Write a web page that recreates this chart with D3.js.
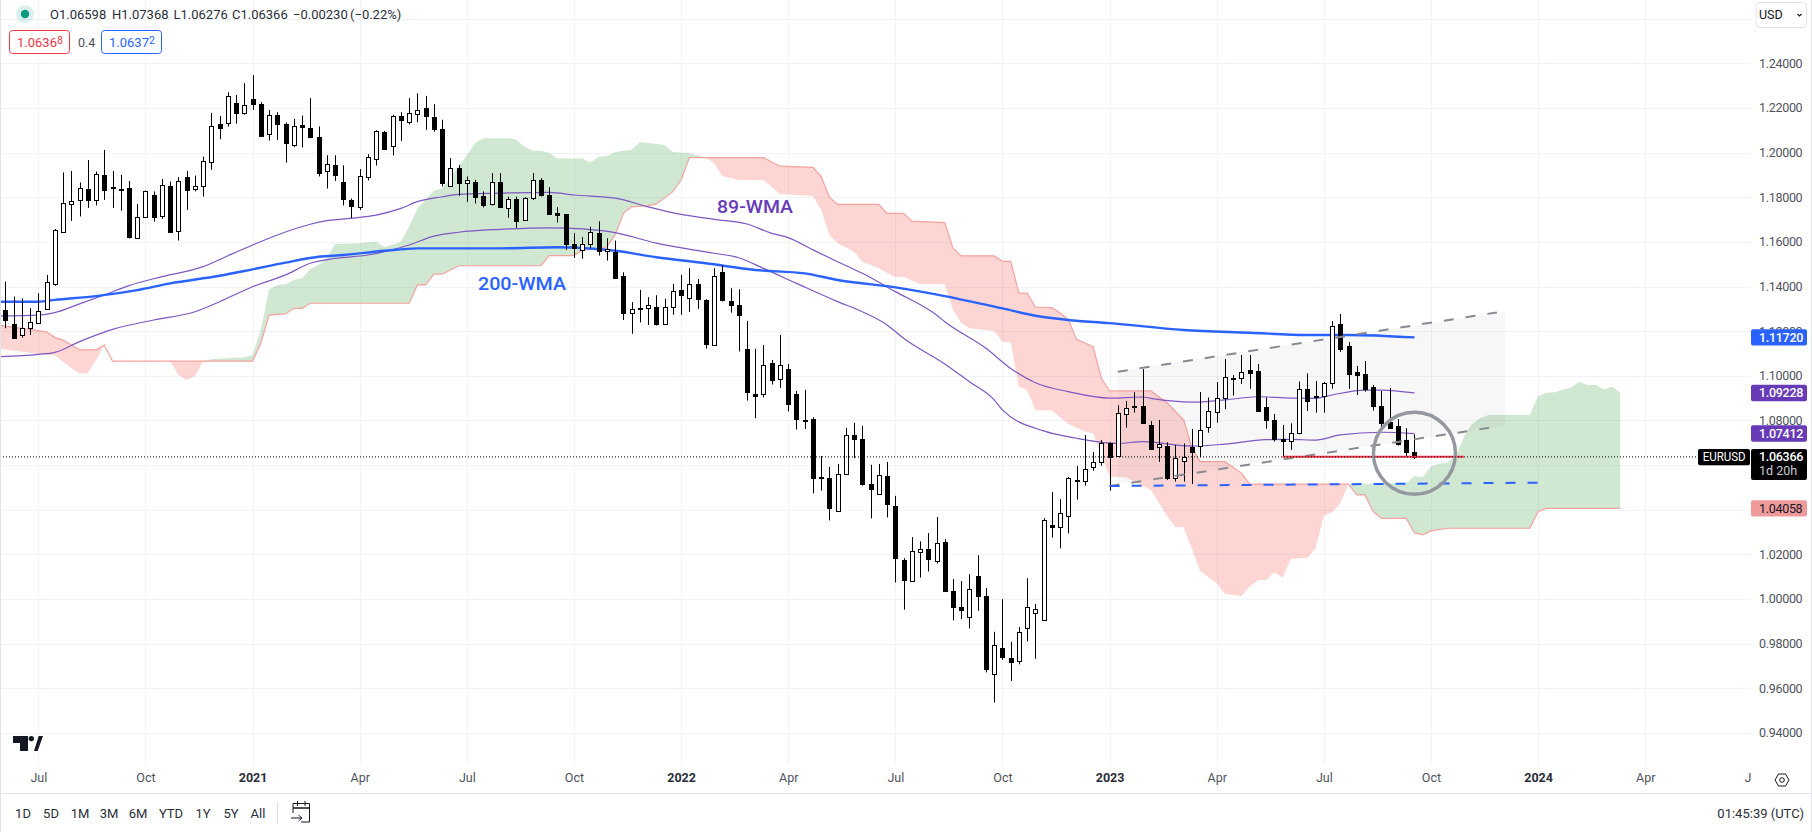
<!DOCTYPE html>
<html>
<head>
<meta charset="utf-8">
<title>EURUSD weekly</title>
<script src="https://cdn.jsdelivr.net/npm/d3@7"></script>
<style>
  html, body { margin: 0; padding: 0; background: #fff; overflow: hidden; }
  svg { display: block; }
  text { font-family: Roboto, "Open Sans", sans-serif; }
</style>
</head>
<body>
<div id="chart"></div>
<script>
// weekly candles, bar 0 is the first one on screen
const opens = [1.1295,1.1232,1.1180,1.1213,1.1238,1.1303,1.1412,1.1643,1.1769,1.1787,1.1836,1.1787,1.1900,1.1845,1.1837,1.1840,1.1619,1.1711,1.1809,1.1714,1.1851,1.1648,1.1890,1.1839,1.1849,1.1957,1.2129,1.2132,1.2221,1.2176,1.2239,1.2217,1.2082,1.2169,1.2129,1.2032,1.2123,1.2109,1.2069,1.1917,1.1943,1.1867,1.1787,1.1755,1.1890,1.1969,1.2091,1.2029,1.2163,1.2139,1.2170,1.2199,1.2158,1.2105,1.1852,1.1930,1.1861,1.1867,1.1805,1.1767,1.1867,1.1755,1.1794,1.1697,1.1793,1.1876,1.1809,1.1728,1.1724,1.1589,1.1567,1.1589,1.1639,1.1558,1.1555,1.1446,1.1285,1.1304,1.1303,1.1307,1.1236,1.1312,1.1383,1.1352,1.1410,1.1340,1.1141,1.1464,1.1334,1.1316,1.1119,1.0917,1.0916,1.1056,1.0985,1.1029,1.0917,1.0801,1.0806,1.0546,1.0541,1.0395,1.0559,1.0734,1.0716,1.0514,1.0470,1.0550,1.0416,1.0174,1.0080,1.0210,1.0223,1.0174,1.0255,1.0035,0.9963,0.9919,1.0102,1.0013,0.9668,0.9780,0.9735,0.9726,0.9869,0.9941,0.9905,1.0330,1.0320,1.0369,1.0533,1.0526,1.0588,1.0612,1.0699,1.0638,1.0827,1.0865,1.0865,1.0780,1.0680,1.0685,1.0541,1.0621,1.0681,1.0684,1.0769,1.0836,1.0899,1.0987,1.0987,1.1026,1.1021,1.0860,1.0802,1.0715,1.0711,1.0741,1.0941,1.0908,1.0906,1.0966,1.1232,1.1133,1.1017,1.1008,1.0950,1.0865,1.0793,1.0775,1.0712,1.06598];
const highs = [1.1422,1.1355,1.1347,1.1303,1.1370,1.1452,1.1657,1.1911,1.1918,1.1866,1.1967,1.1915,1.2012,1.1918,1.1900,1.1873,1.1770,1.1830,1.1826,1.1882,1.1870,1.1890,1.1918,1.1897,1.1982,1.2178,1.2164,1.2270,1.2258,1.2311,1.2347,1.2226,1.2191,1.2181,1.2135,1.2151,1.2166,1.2244,1.2117,1.1988,1.1988,1.1943,1.1794,1.1926,1.1993,1.2100,1.2097,1.2169,1.2181,1.2244,1.2266,1.2254,1.2217,1.2147,1.1975,1.1945,1.1893,1.1878,1.1826,1.1908,1.1908,1.1803,1.1803,1.1800,1.1908,1.1885,1.1845,1.1755,1.1725,1.1639,1.1621,1.1668,1.1692,1.1616,1.1606,1.1464,1.1330,1.1385,1.1352,1.1361,1.1345,1.1412,1.1452,1.1482,1.1433,1.1343,1.1482,1.1494,1.1392,1.1388,1.1246,1.1121,1.1138,1.1071,1.1183,1.1053,1.0932,1.0937,1.0814,1.0641,1.0592,1.0605,1.0767,1.0789,1.0776,1.0601,1.0605,1.0614,1.0462,1.0183,1.0277,1.0258,1.0295,1.0367,1.0268,1.0089,1.0080,1.0111,1.0196,1.0049,0.9853,0.9999,0.9808,0.9874,1.0093,0.9978,1.0362,1.0479,1.0447,1.0547,1.0596,1.0735,1.0659,1.0712,1.0702,1.0868,1.0887,1.0927,1.1030,1.0797,1.0802,1.0702,1.0690,1.0697,1.0762,1.0927,1.0903,1.0972,1.1075,1.1003,1.1093,1.1093,1.1053,1.0903,1.0829,1.0780,1.0787,1.0974,1.1011,1.0977,1.0972,1.1245,1.1277,1.1151,1.1044,1.1066,1.0959,1.0932,1.0945,1.0806,1.0765,1.07368];
const lows = [1.1213,1.1168,1.1171,1.1183,1.1235,1.1303,1.1403,1.1643,1.1694,1.1714,1.1752,1.1763,1.1788,1.1752,1.1739,1.1615,1.1615,1.1709,1.1691,1.1703,1.1642,1.1606,1.1743,1.1826,1.1803,1.1923,1.2060,1.2117,1.2130,1.2170,1.2191,1.2072,1.2054,1.2057,1.1955,1.2024,1.2023,1.2064,1.1893,1.1839,1.1873,1.1763,1.1706,1.1743,1.1875,1.1942,1.2012,1.1987,1.2052,1.2126,1.2136,1.2102,1.2094,1.1848,1.1851,1.1806,1.1779,1.1772,1.1754,1.1763,1.1754,1.1708,1.1663,1.1694,1.1787,1.1803,1.1721,1.1687,1.1564,1.1528,1.1524,1.1571,1.1539,1.1516,1.1436,1.1250,1.1188,1.1239,1.1228,1.1225,1.1234,1.1273,1.1273,1.1286,1.1300,1.1122,1.1141,1.1333,1.1283,1.1109,1.0889,1.0810,1.0903,1.0961,1.0946,1.0840,1.0759,1.0762,1.0473,1.0486,1.0352,1.0392,1.0559,1.0631,1.0508,1.0361,1.0468,1.0365,1.0074,0.9952,1.0078,1.0096,1.0123,1.0159,1.0034,0.9904,0.9911,0.9868,0.9947,0.9671,0.9536,0.9728,0.9633,0.9707,0.9810,0.9732,0.9904,1.0275,1.0227,1.0294,1.0445,1.0508,1.0575,1.0597,1.0485,1.0638,1.0768,1.0835,1.0790,1.0668,1.0614,1.0533,1.0526,1.0526,1.0515,1.0635,1.0745,1.0790,1.0850,1.0911,1.0963,1.0942,1.0844,1.0763,1.0705,1.0638,1.0668,1.0738,1.0842,1.0835,1.0835,1.0942,1.1107,1.0941,1.0914,1.0929,1.0844,1.0765,1.0768,1.0687,1.0636,1.06276];
const closes = [1.1250,1.1171,1.1213,1.1240,1.1292,1.1422,1.1654,1.1773,1.1782,1.1840,1.1788,1.1903,1.1833,1.1839,1.1831,1.1622,1.1711,1.1827,1.1709,1.1854,1.1643,1.1872,1.1830,1.1852,1.1961,1.2118,1.2109,1.2253,1.2175,1.2212,1.2215,1.2072,1.2167,1.2130,1.2045,1.2118,1.2112,1.2067,1.1906,1.1948,1.1897,1.1790,1.1758,1.1894,1.1979,1.2096,1.2014,1.2163,1.2144,1.2179,1.2190,1.2161,1.2103,1.1861,1.1933,1.1861,1.1876,1.1799,1.1763,1.1867,1.1754,1.1794,1.1697,1.1796,1.1875,1.1808,1.1722,1.1718,1.1590,1.1570,1.1592,1.1643,1.1557,1.1567,1.1439,1.1279,1.1301,1.1298,1.1315,1.1233,1.1310,1.1382,1.1359,1.1413,1.1342,1.1144,1.1449,1.1340,1.1315,1.1270,1.0925,1.0907,1.1047,1.0979,1.1047,1.0871,1.0804,1.0795,1.0540,1.0540,1.0405,1.0559,1.0734,1.0716,1.0513,1.0490,1.0555,1.0423,1.0181,1.0083,1.0214,1.0222,1.0177,1.0253,1.0037,0.9962,0.9949,1.0043,1.0011,0.9684,0.9796,0.9738,0.9716,0.9854,0.9963,0.9957,1.0353,1.0321,1.0384,1.0541,1.0527,1.0581,1.0612,1.0699,1.0638,1.0832,1.0854,1.0860,1.0790,1.0672,1.0693,1.0541,1.0630,1.0638,1.0660,1.0756,1.0841,1.0899,1.0993,1.0992,1.1015,1.1014,1.0844,1.0803,1.0717,1.0705,1.0745,1.0939,1.0889,1.0902,1.0966,1.1221,1.1121,1.1009,1.1005,1.0941,1.0866,1.0789,1.0768,1.0696,1.0656,1.06366];

// moving averages: bar index of each vertex, then the value there
const wma200Bars = [-1,4,6,11,16,20,26,30,34,38,41,46,50,60,67,74,79,85,91,97,101,108,114,121,125,129,134,143,151,158,163,171];
const wma200 = [1.1332,1.1332,1.1340,1.1357,1.1384,1.1414,1.1448,1.1477,1.1507,1.1533,1.1541,1.1560,1.1571,1.1571,1.1576,1.1560,1.1531,1.1504,1.1474,1.1459,1.1429,1.1396,1.1357,1.1302,1.1269,1.1250,1.1236,1.1205,1.1193,1.1183,1.1183,1.1172];
const wmaFastBars = [-1,4,6,9,12,15,19,24,27,30,33,37,39,42,45,48,50,53,55,60,66,69,74,78,82,86,90,93,95,98,101,104,108,113,114,119,122,125,129,134,138,139,144,148,152,156,159,161,165,167,171];
const wmaFast = [1.1268,1.1272,1.1283,1.1322,1.1362,1.1404,1.1444,1.1489,1.1538,1.1586,1.1631,1.1679,1.1695,1.1706,1.1720,1.1750,1.1780,1.1802,1.1813,1.1818,1.1822,1.1810,1.1796,1.1757,1.1723,1.1701,1.1680,1.1638,1.1619,1.1564,1.1511,1.1459,1.1377,1.1272,1.1242,1.1123,1.1033,1.0969,1.0929,1.0900,1.0905,1.0899,1.0882,1.0892,1.0906,1.0900,1.0899,1.0914,1.0936,1.0936,1.0923];
const wmaSlowBars = [-1,4,6,9,13,18,23,26,30,34,37,40,44,46,49,52,55,60,66,70,74,79,86,89,92,96,101,104,107,109,114,117,120,121,126,130,135,138,144,148,153,156,159,162,167,171];
const wmaSlow = [1.1085,1.1096,1.1105,1.1153,1.1208,1.1250,1.1287,1.1332,1.1399,1.1452,1.1504,1.1526,1.1541,1.1556,1.1586,1.1626,1.1643,1.1656,1.1663,1.1658,1.1641,1.1594,1.1549,1.1529,1.1481,1.1414,1.1332,1.1287,1.1228,1.1168,1.1053,1.0973,1.0892,1.0847,1.0753,1.0720,1.0697,1.0705,1.0685,1.0694,1.0714,1.0715,1.0712,1.0735,1.0747,1.0741];

// ichimoku cloud edges
const spanABars = [-1,5,6,7,8,9,10,11,12,13,20,21,22,23,24,25,27,29,30,31,32,33,34,35,36,37,38,39,40,43,45,46,48,49,50,52,53,54,55,57,58,61,62,63,64,65,66,67,70,71,72,73,74,75,76,77,80,81,83,85,86,87,89,92,94,98,99,100,101,103,104,106,108,109,111,114,115,116,117,120,121,122,123,124,125,127,129,131,132,134,136,138,139,140,141,142,143,145,147,148,150,151,152,153,154,155,156,158,159,160,161,162,163,170,171,172,173,174,175,176,177,178,179,180,185,186,187,188,190,191,192,193,194,195,196];
const spanA = [1.1123,1.1093,1.1093,1.1063,1.1034,1.1011,1.1011,1.1071,1.1138,1.1066,1.1066,1.1004,1.0981,1.0999,1.1066,1.1074,1.1078,1.1083,1.1093,1.1205,1.1387,1.1407,1.1410,1.1429,1.1437,1.1477,1.1496,1.1526,1.1590,1.1594,1.1601,1.1576,1.1601,1.1668,1.1750,1.1829,1.1840,1.1885,1.1937,1.2042,1.2064,1.2064,1.2059,1.2026,1.2008,1.2008,1.1998,1.1974,1.1974,1.1955,1.1981,1.1985,1.2001,1.2008,1.2012,1.2047,1.2034,1.2003,1.1997,1.1977,1.1952,1.1895,1.1877,1.1877,1.1814,1.1806,1.1743,1.1631,1.1594,1.1556,1.1511,1.1482,1.1441,1.1444,1.1411,1.1411,1.1295,1.1238,1.1213,1.1201,1.1153,1.1150,1.0951,1.0936,1.0847,1.0845,1.0784,1.0750,1.0742,1.0548,1.0545,1.0506,1.0488,1.0430,1.0369,1.0321,1.0321,1.0125,1.0070,1.0022,1.0013,1.0055,1.0085,1.0085,1.0120,1.0095,1.0179,1.0185,1.0227,1.0373,1.0387,1.0429,1.0515,1.0518,1.0551,1.0545,1.0593,1.0605,1.0611,1.0638,1.0727,1.0784,1.0811,1.0824,1.0824,1.0909,1.0924,1.0926,1.0948,1.0973,1.0959,1.0959,1.0939,1.0951,1.0922];
const spanBBars = [-1,5,6,7,8,9,11,12,13,30,31,32,33,34,35,36,37,49,50,51,52,53,55,65,66,69,70,72,73,74,75,76,78,79,81,82,83,92,94,98,99,100,101,106,107,109,110,114,115,116,120,121,122,123,124,125,127,128,129,130,132,133,134,139,141,143,144,145,148,150,151,163,164,165,166,167,170,171,172,173,175,185,186,187,196];
const spanB = [1.1228,1.1197,1.1171,1.1160,1.1138,1.1116,1.1116,1.1138,1.1066,1.1066,1.1146,1.1272,1.1275,1.1277,1.1302,1.1302,1.1325,1.1325,1.1407,1.1407,1.1455,1.1455,1.1493,1.1493,1.1538,1.1538,1.1564,1.1567,1.1578,1.1631,1.1728,1.1757,1.1762,1.1770,1.1825,1.1877,1.1977,1.1977,1.1939,1.1934,1.1892,1.1800,1.1768,1.1768,1.1728,1.1728,1.1693,1.1686,1.1572,1.1537,1.1537,1.1513,1.1513,1.1370,1.1370,1.1308,1.1305,1.1281,1.1250,1.1163,1.1130,1.0989,1.0932,1.0932,1.0878,1.0802,1.0676,1.0615,1.0615,1.0564,1.0515,1.0515,1.0466,1.0466,1.0391,1.0361,1.0361,1.0297,1.0287,1.0305,1.0317,1.0317,1.0391,1.04058,1.04058];
// bar ranges where the cloud is bearish or bullish
const cloudRunEdges = [-1,24,85,163,196];
const cloudRunColors = ['rgba(244,67,54,.22)','rgba(67,160,71,.25)','rgba(244,67,54,.22)','rgba(67,160,71,.25)'];

// drawings: [bar, price] ends
const channelUpper = [[135,1.1018],[181,1.1284]];
const channelLower = [[134,1.0506],[181,1.0772]];
const channelBox = [[135,1.1020],[182,1.1287],[182,1.0776],[135,1.0515]];
const supportLine = [[155,1.0637],[177,1.0637]];
const blueDashed = [[134,1.0506],[186,1.0521]];
const circleCentre = [171,1.0653];

const gridPrices = [1.26,1.24,1.22,1.20,1.18,1.16,1.14,1.12,1.10,1.08,1.06,1.04,1.02,1.00,0.98,0.96,0.94];
// 1.06 and 1.04 sit behind the black and pink tags, so they get no label
const priceLabels = [1.24,1.22,1.20,1.18,1.16,1.14,1.12,1.10,1.08,1.02,1.00,0.98,0.96,0.94];
const timeTickBars = [4,17,30,43,56,69,82,95,108,121,134,147,160,173,186,199,212];
const timeTickLabels = ['Jul','Oct','2021','Apr','Jul','Oct','2022','Apr','Jul','Oct','2023','Apr','Jul','Oct','2024','Apr','Jul'];
const lastPrice = 1.06366;
const lineTags = [1.11720,1.09228,1.07412];
const lineTagColors = ['#2962ff','#673ab7','#673ab7'];
const cloudTag = 1.04058;
const ranges = ['1D','5D','1M','3M','6M','YTD','1Y','5Y','All'];
const rangeCentres = [23,51,80,109,138,171,203,231,258];
const legendItems = ['O1.06598','H1.07368','L1.06276','C1.06366','\u22120.00230','(\u22120.22%)'];
const legendLefts = [50,112,173.5,232,293,350];

const W = 1812, H = 832;
const paneRight = 1751, paneBottom = 765, footerTop = 793.5;

const x = d3.scaleLinear().domain([0,212]).range([5.4,1752.3]);
const y = d3.scaleLinear().domain([1.24,0.94]).range([63.3,732.9]);

const svg = d3.select('#chart').append('svg').attr('width',W).attr('height',H);
const defs = svg.append('defs');
defs.append('clipPath').attr('id','pane').append('rect').attr('width',paneRight).attr('height',paneBottom);

const pane = svg.append('g').attr('clip-path','url(#pane)');

// grid
pane.selectAll('.hgrid').data(gridPrices).join('line').attr('class','hgrid')
    .attr('x1',0).attr('x2',paneRight)
    .attr('y1',d => Math.round(y(d))+.5).attr('y2',d => Math.round(y(d))+.5)
    .attr('stroke','#f0f3fa');
pane.selectAll('.vgrid').data(timeTickBars).join('line').attr('class','vgrid')
    .attr('y1',0).attr('y2',paneBottom)
    .attr('x1',d => Math.round(x(d))+.5).attr('x2',d => Math.round(x(d))+.5)
    .attr('stroke','#f0f3fa');

const line = d3.line().x(d => x(d[0])).y(d => y(d[1]));
const smoothLine = d3.line().x(d => x(d[0])).y(d => y(d[1])).curve(d3.curveMonotoneX);
const zipped = (bars,vals) => bars.map((b,i) => [b,vals[i]]);

// cloud, the same outline is painted once per run and clipped to that run
const outline = line(zipped(spanABars,spanA).concat(zipped(spanBBars,spanB).reverse()))+'Z';
cloudRunColors.forEach((c,i) => {
    defs.append('clipPath').attr('id','run'+i).append('rect')
        .attr('x',x(cloudRunEdges[i])).attr('width',x(cloudRunEdges[i+1])-x(cloudRunEdges[i]))
        .attr('y',0).attr('height',paneBottom);
    pane.append('path').attr('d',outline).attr('fill',c)
        .attr('clip-path',`url(#run${i})`);
});
pane.append('path').attr('d',line(zipped(spanBBars,spanB)))
    .attr('fill','none').attr('stroke','#f5a3a0').attr('stroke-width',1.2);

// channel box
pane.append('path').attr('d',line(channelBox)+'Z').attr('fill','#787b86').attr('fill-opacity',.06);

const lastY = y(lastPrice);

// moving averages
[[wmaFastBars,wmaFast],[wmaSlowBars,wmaSlow]].forEach(s => {
    pane.append('path').attr('d',smoothLine(zipped(s[0],s[1])))
        .attr('fill','none').attr('stroke','#7e57c2').attr('stroke-width',1.2);
});
pane.append('path').attr('d',smoothLine(zipped(wma200Bars,wma200)))
    .attr('fill','none').attr('stroke','#2962ff').attr('stroke-width',2.4);

// candles
const candles = opens.map((o,i) => ({i:i,o:o,h:highs[i],l:lows[i],c:closes[i]}));
const candle = pane.selectAll('.candle').data(candles).join('g').attr('class','candle')
    .attr('transform',d => `translate(${Math.round(x(d.i))+.5},0)`);
candle.append('line').attr('y1',d => y(d.h)).attr('y2',d => y(d.l)).attr('stroke','#000');
candle.append('rect').attr('x',-2).attr('width',4)
    .attr('y',d => Math.round(y(Math.max(d.o,d.c)))+.5)
    .attr('height',d => Math.max(1,Math.round(Math.abs(y(d.o)-y(d.c)))))
    .attr('fill',d => d.c >= d.o ? '#fff' : '#000')
    .attr('stroke','#000');

// drawings
pane.append('path').attr('d',line(channelUpper)).attr('fill','none').attr('stroke','#888a90')
    .attr('stroke-width',2).attr('stroke-dasharray','10 12');
pane.append('path').attr('d',line(channelLower)).attr('fill','none').attr('stroke','#888a90')
    .attr('stroke-width',2).attr('stroke-dasharray','10 12');
pane.append('path').attr('d',line(supportLine)).attr('fill','none').attr('stroke','#f23645').attr('stroke-width',2);
pane.append('path').attr('d',line(blueDashed)).attr('fill','none').attr('stroke','#2962ff')
    .attr('stroke-width',2).attr('stroke-dasharray','10 12');
pane.append('circle').attr('cx',x(circleCentre[0])).attr('cy',y(circleCentre[1])).attr('r',41)
    .attr('fill','none').attr('stroke','#9598a1').attr('stroke-width',3.4);

pane.append('line').attr('x1',0).attr('x2',paneRight).attr('y1',lastY).attr('y2',lastY)
    .attr('stroke','#000').attr('stroke-dasharray','1 2');

// indicator names
pane.append('text').attr('x',717).attr('y',213).text('89-WMA')
    .attr('fill','#673ab7').attr('font-size',19).attr('font-weight',500)
    .attr('textLength',76).attr('lengthAdjust','spacingAndGlyphs');
pane.append('text').attr('x',478).attr('y',290).text('200-WMA')
    .attr('fill','#2962ff').attr('font-size',19).attr('font-weight',500)
    .attr('textLength',88).attr('lengthAdjust','spacingAndGlyphs');

// tv logo
pane.append('path').attr('d','M13 736H28V751H20V743H13Z M34 751L38.7 736H43L37.6 751Z').attr('fill','#131722');
pane.append('circle').attr('cx',31.3).attr('cy',738.6).attr('r',2.7).attr('fill','#131722');

// price axis
const yAxis = svg.append('g').attr('transform',`translate(${paneRight},0)`)
    .call(d3.axisRight(y).tickValues(priceLabels).tickFormat(d3.format('.5f')).tickSize(0).tickPadding(8));
yAxis.select('.domain').remove();
yAxis.selectAll('text').attr('font-family','Roboto').attr('font-size',12.5).attr('letter-spacing',-.3).attr('fill','#50535e');

// time axis
defs.append('clipPath').attr('id','timeClip').append('rect').attr('width',paneRight).attr('height',H);
const xAxis = svg.append('g').attr('transform',`translate(0,${paneBottom})`).attr('clip-path','url(#timeClip)')
    .call(d3.axisBottom(x).tickValues(timeTickBars).tickFormat((d,i) => timeTickLabels[i]).tickSize(0).tickPadding(8));
xAxis.select('.domain').remove();
xAxis.selectAll('text').attr('font-family','Roboto').attr('font-size',12.5).attr('fill','#50535e')
    .filter((d,i) => /^\d+$/.test(timeTickLabels[i])).attr('font-weight',700).attr('fill','#2a2e39');

// tags on the price axis
const tag = (tx,ty,tw,th,fill,label,color) => {
    svg.append('rect').attr('x',tx).attr('y',ty).attr('width',tw).attr('height',th).attr('rx',2).attr('fill',fill);
    return svg.append('text').attr('x',tx+8).attr('y',ty+th/2).attr('dy','.35em').text(label)
        .attr('fill',color).attr('font-size',12.5).attr('letter-spacing',-.3);
};
lineTags.forEach((v,i) => tag(paneRight,y(v)-8.2,56,16.4,lineTagColors[i],d3.format('.5f')(v),'#fff').attr('font-weight',500));
tag(paneRight,y(cloudTag)-8.2,56,16.4,'#ef9a9a',d3.format('.5f')(cloudTag),'#131722');
tag(1698,lastY-8,52,16.4,'#000','EURUSD','#fff').attr('x',1702.7)
    .attr('letter-spacing',null).attr('textLength',43).attr('lengthAdjust','spacingAndGlyphs');
svg.append('rect').attr('x',paneRight).attr('y',lastY-8).attr('width',56).attr('height',31).attr('rx',2).attr('fill','#000');
svg.append('text').attr('x',paneRight+8).attr('y',lastY+4.5).text(d3.format('.5f')(lastPrice))
    .attr('fill','#fff').attr('font-size',12.5).attr('font-weight',500).attr('letter-spacing',-.3);
svg.append('text').attr('x',paneRight+8).attr('y',lastY+18.5).text('1d 20h')
    .attr('fill','#c9cbd1').attr('font-size',12.5);

// legend
svg.append('circle').attr('cx',25).attr('cy',14).attr('r',9).attr('fill','#089981').attr('fill-opacity',.14);
svg.append('circle').attr('cx',25).attr('cy',14).attr('r',4.2).attr('fill','#089981');
svg.selectAll('.legend').data(legendItems).join('text').attr('class','legend')
    .attr('x',(d,i) => legendLefts[i]).attr('y',19).text(d => d)
    .attr('font-size',13).attr('fill','#2a2e39');

const quoteBox = (bx,bw,color,main,sup) => {
    svg.append('rect').attr('x',bx+.5).attr('y',30.5).attr('width',bw).attr('height',23).attr('rx',3)
        .attr('fill','#fff').attr('stroke',color);
    const t = svg.append('text').attr('x',bx+8).attr('y',47).attr('fill',color).attr('font-size',13);
    t.append('tspan').text(main);
    t.append('tspan').attr('font-size',10.5).attr('dy',-3).text(sup);
};
quoteBox(9,60,'#f23645','1.0636','8');
quoteBox(101,60,'#2962ff','1.0637','2');
svg.append('text').attr('x',78).attr('y',47).text('0.4').attr('font-size',12.5).attr('fill','#50535e');

// currency button
svg.append('rect').attr('x',1756).attr('y',2.5).attr('width',50.5).attr('height',25).attr('rx',4)
    .attr('fill','#fff').attr('stroke','#e0e3eb');
svg.append('text').attr('x',1759).attr('y',19).text('USD').attr('font-size',12.5).attr('fill','#131722');
svg.append('path').attr('d','M1797.5 14L1799.5 16L1801.5 14').attr('fill','none').attr('stroke','#131722').attr('stroke-width',1.2);

// footer
svg.append('line').attr('x1',0).attr('x2',W).attr('y1',footerTop).attr('y2',footerTop).attr('stroke','#e0e3eb');
svg.selectAll('.range').data(ranges).join('text').attr('class','range')
    .attr('x',(d,i) => rangeCentres[i]).attr('y',818).attr('text-anchor','middle').text(d => d)
    .attr('font-size',13).attr('fill','#2a2e39');
svg.append('line').attr('x1',277.5).attr('x2',277.5).attr('y1',802).attr('y2',824).attr('stroke','#e0e3eb');
svg.append('path').attr('d','M293 808H309.5V822H301 M293 813V803.5H309.5V813 M293 808H309.5 M297.5 801V806 M305 801V806 M291 818H302 M298.5 815L302 818L298.5 821')
    .attr('fill','none').attr('stroke','#131722').attr('stroke-width',1);
svg.append('text').attr('x',1804).attr('y',818).attr('text-anchor','end').text('01:45:39 (UTC)')
    .attr('font-size',13).attr('fill','#2a2e39');

// settings hexagon
svg.append('path').attr('d','M1775 780L1778.5 774H1785.5L1789 780L1785.5 786H1778.5Z').attr('fill','none').attr('stroke','#131722');
svg.append('circle').attr('cx',1782).attr('cy',780).attr('r',2.3).attr('fill','none').attr('stroke','#131722');

// frame
svg.append('line').attr('x1',.5).attr('x2',.5).attr('y1',0).attr('y2',H).attr('stroke','#e0e3eb');
svg.append('line').attr('x1',W-.5).attr('x2',W-.5).attr('y1',0).attr('y2',H).attr('stroke','#e0e3eb');
</script>
</body>
</html>
